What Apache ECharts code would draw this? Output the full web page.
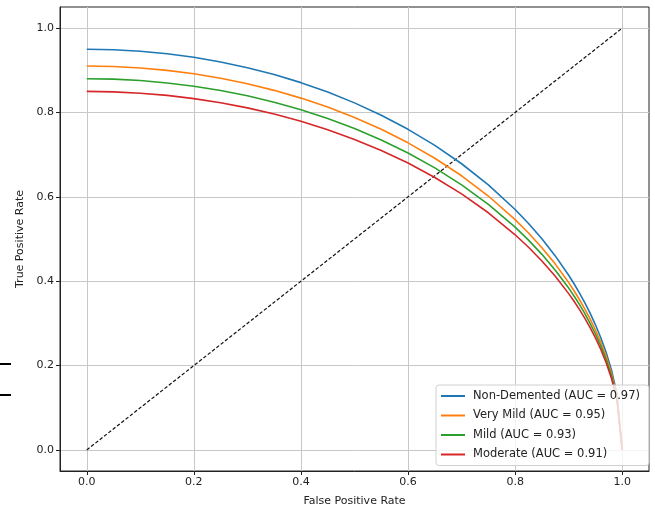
<!DOCTYPE html>
<html><head><meta charset="utf-8">
<script src="https://cdn.jsdelivr.net/npm/echarts@6/dist/echarts.min.js"></script>
<style>html,body{margin:0;padding:0;background:#fff}#c{width:655px;height:512px}</style>
</head><body><div id="c"></div>
<script>
const fpr = [0,0.05,0.1,0.15,0.2,0.25,0.3,0.35,0.4,0.45,0.5,0.55,0.6,0.65,0.7,0.75,0.8,0.825,0.85,0.875,0.9,0.91,0.92,0.93,0.94,0.95,0.96,0.97,0.98,0.99,1];
const tprNonDemented = [0.95,0.9488,0.9452,0.9393,0.9308,0.9198,0.9062,0.8899,0.8707,0.8484,0.8227,0.7934,0.76,0.7219,0.6784,0.6284,0.57,0.5369,0.5004,0.4599,0.4141,0.3939,0.3723,0.3492,0.3241,0.2966,0.266,0.2309,0.189,0.134,0];
const tprVeryMild = [0.91,0.9089,0.9054,0.8997,0.8916,0.8811,0.8681,0.8524,0.834,0.8127,0.7881,0.76,0.728,0.6915,0.6499,0.6019,0.546,0.5143,0.4794,0.4405,0.3967,0.3773,0.3566,0.3345,0.3105,0.2841,0.2548,0.2212,0.1811,0.1284,0];
const tprMild = [0.88,0.8789,0.8756,0.87,0.8622,0.8521,0.8395,0.8243,0.8065,0.7859,0.7621,0.7349,0.704,0.6687,0.6284,0.5821,0.528,0.4973,0.4636,0.426,0.3836,0.3649,0.3449,0.3235,0.3002,0.2748,0.2464,0.2139,0.1751,0.1241,0];
const tprModerate = [0.85,0.8489,0.8457,0.8404,0.8328,0.823,0.8108,0.7962,0.779,0.7591,0.7361,0.7099,0.68,0.6459,0.607,0.5622,0.51,0.4804,0.4478,0.4115,0.3705,0.3524,0.3331,0.3124,0.29,0.2654,0.238,0.2066,0.1692,0.1199,0];
const seriesNames = ['Non-Demented (AUC = 0.97)','Very Mild (AUC = 0.95)','Mild (AUC = 0.93)','Moderate (AUC = 0.91)'];
const colors = ['#1f77b4','#ff7f0e','#2ca02c','#d62728'];
const tickValues = [0,0.2,0.4,0.6,0.8,1.0];
const diagX = [0,1];
const diagY = [0,1];

const font = 'DejaVu Sans';
const tprs = [tprNonDemented,tprVeryMild,tprMild,tprModerate];
const series = tprs.map((t,i)=>({
  name: seriesNames[i], type:'line', symbol:'none', z:3,
  lineStyle:{color:colors[i], width:1.6, join:'round'}, itemStyle:{color:colors[i]},
  data: fpr.map((x,j)=>[x,t[j]])
}));
series.push({
  name:'diag', type:'line', symbol:'none', z:2,
  lineStyle:{color:'#111', width:1.2, type:[3.5,2]},
  data: diagX.map((x,j)=>[x,diagY[j]])
});
function axis(name, isY){
  return {
    type:'value', min:-0.05, max:1.05, name:name,
    nameLocation:'middle', nameGap: isY?34:25,
    nameTextStyle:{fontFamily:font, fontSize:11, color:'#222'},
    axisLine:{show:true, onZero:false, lineStyle:{color:'#222', width:1}},
    axisTick:{show:true, inside:false, length:4, customValues:tickValues, lineStyle:{color:'#222'}},
    axisLabel:{customValues:tickValues, fontFamily:font, fontSize:11, color:'#222', margin:6, formatter:v=>v.toFixed(1)},
    splitLine:{show:true, lineStyle:{color:'#c8c8c8', width:1}}
  };
}
const chart = echarts.init(document.getElementById('c'));
chart.setOption({
  animation:false,
  grid:{left:60, right:6, top:7, bottom:41, show:true, borderColor:'#222', borderWidth:1},
  xAxis: axis('False Positive Rate', false),
  yAxis: axis('True Positive Rate', true),
  legend:{
    data: seriesNames, orient:'vertical', left:436, top:385, icon:'rect',
    backgroundColor:'rgba(255,255,255,0.8)', borderColor:'#d0d0d0', borderWidth:1, borderRadius:3,
    padding:[4,9,4,5], itemWidth:24, itemHeight:2, itemGap:5.5,
    textStyle:{fontFamily:font, fontSize:11.5, color:'#222', lineHeight:14, padding:[0,0,0,3]}
  },
  graphic:[
    {type:'rect', shape:{x:0,y:363,width:11,height:2}, style:{fill:'#000'}},
    {type:'rect', shape:{x:0,y:394,width:11,height:2}, style:{fill:'#000'}}
  ],
  series: series
});
</script></body></html>
